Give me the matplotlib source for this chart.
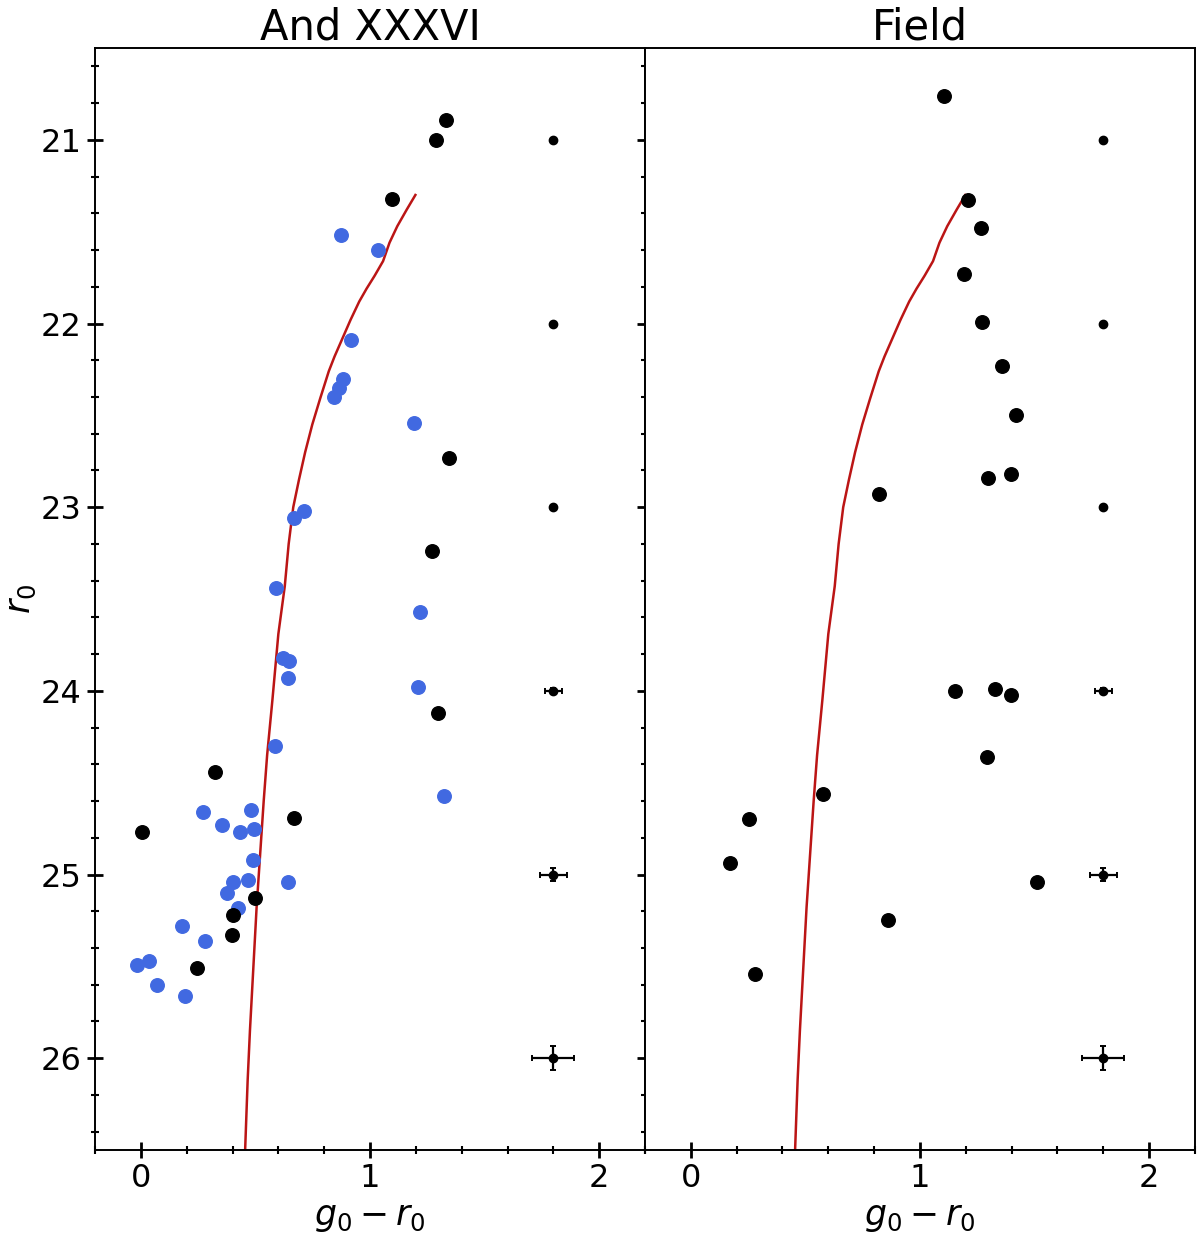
import matplotlib
matplotlib.use("Agg")
import matplotlib.pyplot as plt
from matplotlib.ticker import MultipleLocator

# And XXXVI field: member candidates (blue) and other stars (black)
and_blue_col = [0.873, 1.034, 0.915, 0.882, 0.864, 0.841, 1.192, 0.711, 0.669,
                0.590, 1.218, 0.620, 0.648, 0.640, 1.208, 0.585, 1.323,
                0.272, 0.479, 0.355, 0.434, 0.492, 0.489, 0.469, 0.400, 0.640,
                0.377, 0.425, 0.180, 0.281, -0.019, 0.036, 0.070, 0.194]
and_blue_mag = [21.52, 21.60, 22.09, 22.30, 22.35, 22.40, 22.54, 23.02, 23.06,
                23.44, 23.57, 23.82, 23.84, 23.93, 23.98, 24.30, 24.57,
                24.66, 24.65, 24.73, 24.77, 24.75, 24.92, 25.03, 25.04, 25.04,
                25.10, 25.18, 25.28, 25.36, 25.49, 25.47, 25.60, 25.66]
and_black_col = [1.333, 1.290, 1.097, 1.346, 1.269, 1.295, 0.324, 0.006,
                 0.668, 0.496, 0.400, 0.397, 0.243]
and_black_mag = [20.89, 21.00, 21.32, 22.73, 23.24, 24.12, 24.44, 24.77,
                 24.69, 25.13, 25.22, 25.33, 25.51]

# comparison field
field_col = [1.106, 1.208, 1.267, 1.192, 1.272, 1.359, 1.419, 1.295, 1.396,
             0.821, 1.151, 1.328, 1.396, 1.293, 0.578, 0.256, 0.173, 1.509,
             0.862, 0.280]
field_mag = [20.76, 21.33, 21.48, 21.73, 21.99, 22.23, 22.50, 22.84, 22.82,
             22.93, 24.00, 23.99, 24.02, 24.36, 24.56, 24.70, 24.94, 25.04,
             25.25, 25.54]

# isochrone
iso_col = [1.198, 1.160, 1.119, 1.085, 1.057, 1.020, 0.985, 0.953, 0.915,
           0.873, 0.845, 0.820, 0.782, 0.748, 0.717, 0.690, 0.665, 0.645,
           0.628, 0.600, 0.574, 0.551, 0.536, 0.505, 0.476, 0.466, 0.455]
iso_mag = [21.30, 21.38, 21.47, 21.56, 21.66, 21.74, 21.81, 21.88, 21.98,
           22.10, 22.18, 22.26, 22.41, 22.55, 22.70, 22.85, 23.00, 23.20,
           23.43, 23.69, 24.05, 24.35, 24.60, 25.18, 25.85, 26.12, 26.50]

# typical photometric errors
err_col = [1.8, 1.8, 1.8, 1.8, 1.8, 1.8]
err_mag = [21, 22, 23, 24, 25, 26]
err_x = [0.005, 0.008, 0.012, 0.037, 0.058, 0.092]
err_y = [0.003, 0.004, 0.006, 0.015, 0.036, 0.065]

ISO = "#bb1515"
BLUE = "#4169E1"

fig = plt.figure(figsize=(12, 12.45), dpi=100)
ax1 = fig.add_axes([0.0792, 0.0763, 0.4583, 0.8851])
ax2 = fig.add_axes([0.5375, 0.0763, 0.4583, 0.8851], sharey=ax1)

for ax in (ax1, ax2):
    ax.plot(iso_col, iso_mag, color=ISO, linewidth=1.8, zorder=2)
    ax.errorbar(err_col, err_mag, xerr=err_x, yerr=err_y, fmt="o",
                color="black", markersize=6, elinewidth=1.6, capsize=2.5,
                capthick=1.4, zorder=3)
    ax.set_xlim(-0.2, 2.2)
    ax.xaxis.set_major_locator(MultipleLocator(1))
    ax.xaxis.set_minor_locator(MultipleLocator(0.2))
    ax.yaxis.set_major_locator(MultipleLocator(1))
    ax.yaxis.set_minor_locator(MultipleLocator(0.2))
    for s in ax.spines.values():
        s.set_linewidth(1.4)
    ax.tick_params(which="major", direction="inout", length=12, width=2,
                   labelsize=23, top=False)
    ax.tick_params(which="minor", direction="inout", length=5.5, width=1.5,
                   top=False)
    ax.set_xlabel(r"$g_0 - r_0$", fontsize=25)

ax1.scatter(and_blue_col, and_blue_mag, s=95, color=BLUE, zorder=4)
ax1.scatter(and_black_col, and_black_mag, s=95, color="black", zorder=4)
ax2.scatter(field_col, field_mag, s=95, color="black", zorder=4)

ax1.set_ylim(26.5, 20.5)
ax1.tick_params(which="both", axis="y", left=True, right=True)
ax2.tick_params(which="both", axis="y", left=False, right=False,
                labelleft=False)

ax1.set_ylabel(r"$r_0$", fontsize=25, labelpad=2)
ax1.set_title("And XXXVI", fontsize=30, pad=6)
ax2.set_title("Field", fontsize=30, pad=6)

fig.savefig("out.png", dpi=100)
